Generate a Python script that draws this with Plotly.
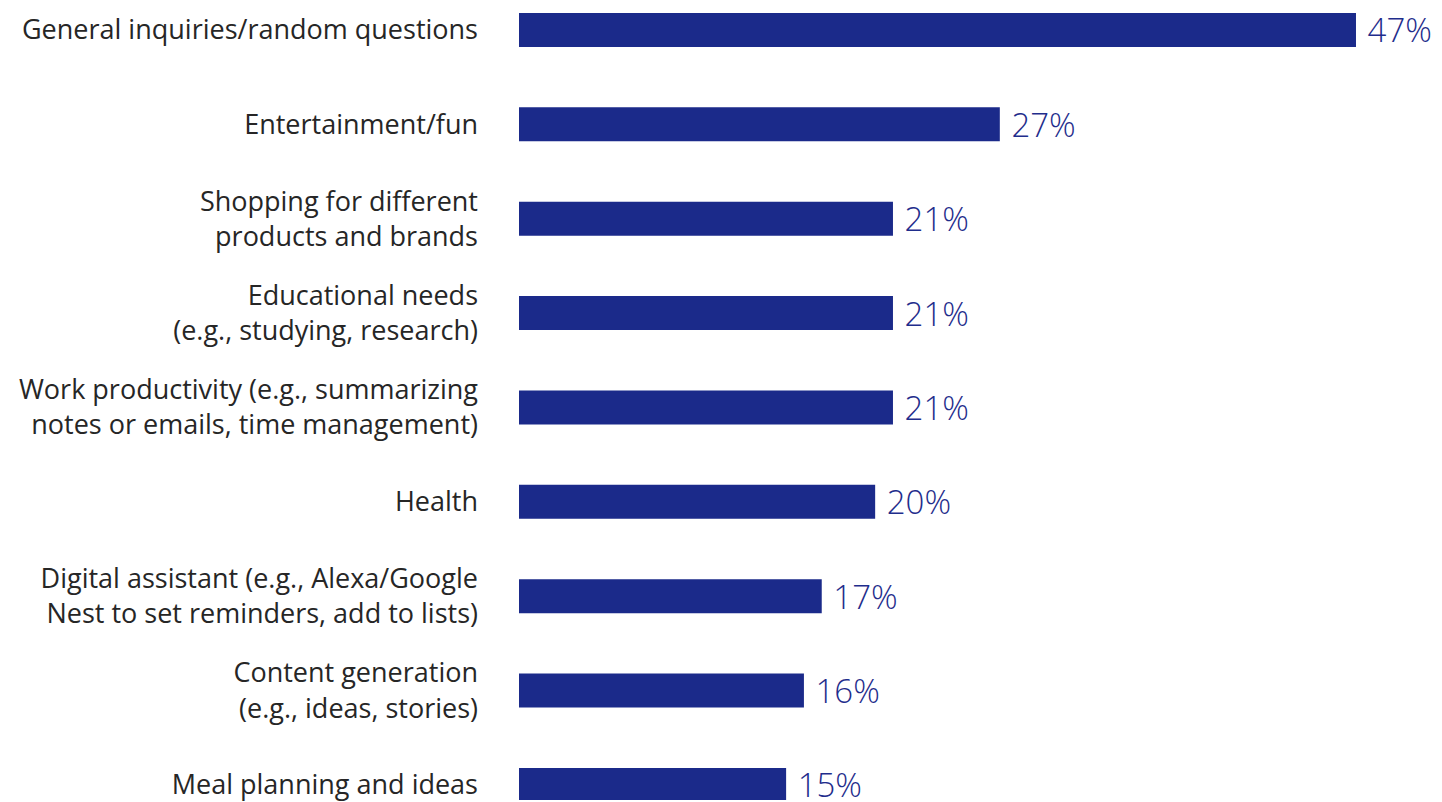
import plotly.graph_objects as go

categories = [
    "General inquiries/random questions",
    "Entertainment/fun",
    "Shopping for different<br>products and brands",
    "Educational needs<br>(e.g., studying, research)",
    "Work productivity (e.g., summarizing<br>notes or emails, time management)",
    "Health",
    "Digital assistant (e.g., Alexa/Google<br>Nest to set reminders, add to lists)",
    "Content generation<br>(e.g., ideas, stories)",
    "Meal planning and ideas",
]
values = [47, 27, 21, 21, 21, 20, 17, 16, 15]

BAR = "#1b2a8a"
VAL = "#1f2d8c"
LBL = "#262626"

fig = go.Figure(
    go.Bar(
        x=values,
        y=categories,
        orientation="h",
        marker=dict(color=BAR, line=dict(width=0)),
        width=0.36,
        texttemplate="\u00a0%{x}%",
        textposition="outside",
        constraintext="none",
        textfont=dict(family="Open Sans", size=33, color=VAL, weight=300),
        cliponaxis=False,
        hoverinfo="skip",
    )
)

fig.update_layout(
    width=1442,
    height=802,
    margin=dict(l=519, r=0, t=0, b=0),
    paper_bgcolor="white",
    plot_bgcolor="white",
    showlegend=False,
    font=dict(family="Open Sans", color=LBL),
)
fig.update_xaxes(range=[0, 51.83], visible=False, fixedrange=True)
fig.update_yaxes(
    range=[8.16, -0.317],
    showgrid=False,
    zeroline=False,
    showline=False,
    ticks="",
    ticklabelstandoff=40,
    tickfont=dict(family="Open Sans", size=27, color=LBL),
)

fig.write_html("out.html")
